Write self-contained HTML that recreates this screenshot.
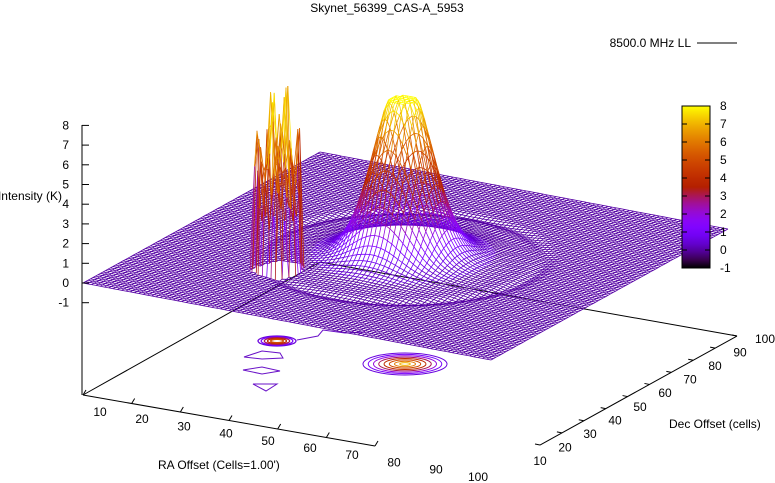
<!DOCTYPE html>
<html><head><meta charset="utf-8"><style>
html,body{margin:0;padding:0;background:#fff}
svg{display:block;font-family:"Liberation Sans",sans-serif}
</style></head><body>
<svg id="c" width="775" height="483" viewBox="0 0 775 483" xmlns="http://www.w3.org/2000/svg">
<text x="387" y="12" font-size="12" text-anchor="middle">Skynet_56399_CAS-A_5953</text>
<g>
<text x="691" y="47" font-size="12" text-anchor="end">8500.0 MHz LL</text>
<line x1="697" y1="43" x2="737" y2="43" stroke="#000" stroke-width="1"/>
</g>
<g id="floor"></g>
<g id="contours"></g>
<g id="surf"></g>
<g id="zaxis"></g>
<g id="cbox"></g>
<text x="62" y="200" font-size="12" text-anchor="end">Intensity (K)</text>
<text x="158" y="469" font-size="12">RA Offset (Cells=1.00')</text>
<text x="669" y="428" font-size="12">Dec Offset (cells)</text>
</svg>
<script>
const zTicks=[-1,0,1,2,3,4,5,6,7,8];
const cbTicks=[-1,0,1,2,3,4,5,6,7,8];
const raTicks=[10,20,30,40,50,60,70,80,90,100];
const decTicks=[10,20,30,40,50,60,70,80,90,100];
const peakU=[0.5,0.313];
const peakV=[0.49,0.283];
const peakAmp=[8.0,7.5];
const peakSigma=[0.058,0.03];
const spikes=[6.5,9.4,5.2,7.9,4.1,9.0,6.1,3.2,7.4,8.6,5.5,6.8,4.6,9.2,7.1,3.8];
const NS='http://www.w3.org/2000/svg';
function el(t,a,p){const e=document.createElementNS(NS,t);for(const k in a)e.setAttribute(k,a[k]);p.appendChild(e);return e;}
function pal(z){let x=(z+1)/9;x=Math.max(0,Math.min(1,x));
 const r=Math.sqrt(x),g=x*x*x,b=Math.max(0,Math.sin(2*Math.PI*x));
 return 'rgb('+Math.round(r*255)+','+Math.round(g*255)+','+Math.round(b*255)+')';}
function P(u,v,z){return [83+u*408+v*237, 283+u*77-v*131-z*19.7];}
function zTopY(z){return 283-z*19.7;}
function Z(u,v){
 let z=0;
 const d0=Math.hypot(u-peakU[0],v-peakV[0]);
 z+=peakAmp[0]*1.05*Math.exp(-d0*d0/(2*peakSigma[0]*peakSigma[0]));
 z+=0.9*Math.exp(-d0*d0/(2*0.1*0.1));
 z=Math.min(peakAmp[0],z);
 z-=0.1*Math.exp(-Math.pow((d0-0.3)/0.015,2));
 const d1=Math.hypot(u-peakU[1],v-peakV[1]);
 if(d1<0.05){const i=Math.round(u*95)*7+Math.round(v*95)*3;z+= (d1<0.025?spikes[i%spikes.length]:spikes[i%spikes.length]*0.75);}
 return z;
}
const fl=document.getElementById('floor');
[[83,395,320,262],[320,262,737,336],[540,445,737,336],[83,395,375,446]].forEach(function(s){
 const l=el('line',{x1:s[0],y1:s[1],x2:s[2],y2:s[3],stroke:'#000','stroke-width':1},fl);
 
 
});
function ra(t){const f=(t-10)/60;return [83+f*292, 395+f*51];}
raTicks.forEach(function(t,i){
 if(t<=70){const p=ra(t);const k=el('line',{x1:p[0],y1:p[1],x2:p[0]+3,y2:p[1]-5,stroke:'#000'},fl);
 }
 const lx=100+(t-10)*4.2, ly=416+(t-10)*0.72;
 const tx=el('text',{x:lx,y:ly,'font-size':12,'text-anchor':'middle'},fl);tx.textContent=t;
 
});
decTicks.forEach(function(t){
 const f=(t-10)/90;const px=540+f*197, py=445-f*109;
 const k=el('line',{x1:px,y1:py,x2:px-5,y2:py-1,stroke:'#000'},fl);
 
 const tx=el('text',{x:540+f*225,y:465-f*122,'font-size':12,'text-anchor':'middle'},fl);tx.textContent=t;
 
});
const cg=document.getElementById('contours');
const bigLevels=[0.5,1,2,3,4,5,6,7];
bigLevels.forEach(function(lv,i){const f=1-i/8;
 const e=el('ellipse',{cx:405,cy:364,rx:42*f,ry:11*f,fill:'none',stroke:pal(lv),'stroke-width':1},cg);
 });
[0.5,1,3,4,5].forEach(function(lv,i){const f=1-i/6;
 const e=el('ellipse',{cx:277,cy:341,rx:19*f,ry:5*f,fill:'none',stroke:pal(lv),'stroke-width':1.3},cg);
 });
['M244,357 L262,351 L280,353 L283,358 L262,359 Z','M243,370 L262,367 L280,371 L262,374 Z','M253,384 L277,384 L266,391 Z','M297,340 L318,336 L323,330 L345,333 L365,332'].forEach(function(d){
 const p=el('path',{d:d,fill:'none',stroke:'#6a12c8','stroke-width':1},cg);
 });
const sg=document.getElementById('surf');
const N=95;const groups={};
function add(u1,v1,u2,v2){const z1=Z(u1,v1),z2=Z(u2,v2);
 const c=pal(Math.round((z1+z2)/2*3)/3);
 const a=P(u1,v1,z1),b=P(u2,v2,z2);
 (groups[c]=groups[c]||[]).push('M'+a[0].toFixed(1)+','+a[1].toFixed(1)+'L'+b[0].toFixed(1)+','+b[1].toFixed(1));}
for(let i=N;i>=0;i--){for(let j=0;j<N;j++){const u=i/N;add(u,j/N,u,(j+1)/N);}}
for(let j=N;j>=0;j--){for(let i=0;i<N;i++){const v=j/N;add(i/N,v,(i+1)/N,v);}}
Object.keys(groups).sort(function(a,b){return groups[b].length-groups[a].length;}).forEach(function(c){
 const p=el('path',{d:groups[c].join(''),fill:'none',stroke:c,'stroke-width':0.8},sg);
 });
const za=document.getElementById('zaxis');
const zl=el('line',{x1:82,y1:125,x2:82,y2:395,stroke:'#000'},za);

zTicks.forEach(function(t){const y=zTopY(t);
 const k=el('line',{x1:82,y1:y,x2:89,y2:y,stroke:'#000'},za);
 
 const tx=el('text',{x:69,y:y+4,'font-size':12,'text-anchor':'end'},za);tx.textContent=t;
 });
const cb=document.getElementById('cbox');
const defs=el('defs',{},cb);const gr=el('linearGradient',{id:'g',x1:0,y1:1,x2:0,y2:0},defs);
for(let k=0;k<=20;k++){el('stop',{offset:k/20,'stop-color':pal(-1+9*k/20)},gr);}
const rc=el('rect',{x:682,y:106,width:28,height:162,fill:'url(#g)',stroke:'#000','stroke-width':1},cb);

cbTicks.forEach(function(t){const y=268-(t+1)*18;
 const k=el('line',{x1:682,y1:y,x2:687,y2:y,stroke:'#000'},cb);
 
 const k2=el('line',{x1:705,y1:y,x2:710,y2:y,stroke:'#000'},cb);
 
 const tx=el('text',{x:720,y:y+4,'font-size':12},cb);tx.textContent=t;
 });
</script>
</body></html>
